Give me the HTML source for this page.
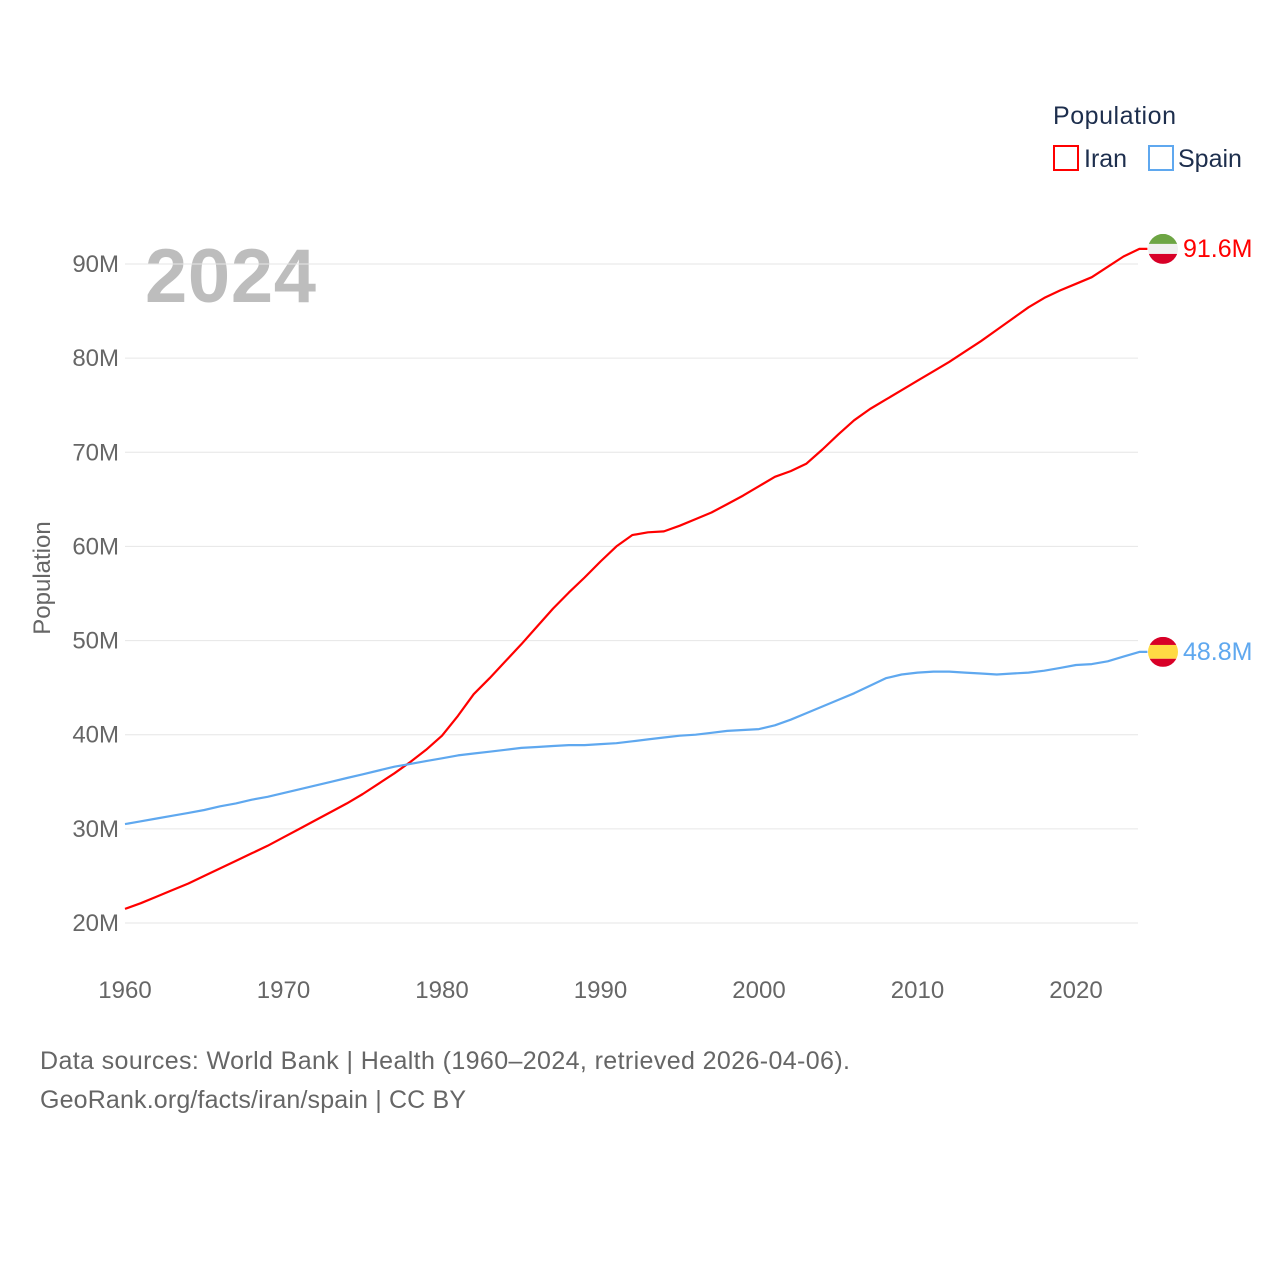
<!DOCTYPE html>
<html><head><meta charset="utf-8"><style>
body{margin:0;background:#fff;width:1280px;height:1280px;overflow:hidden}
svg{font-family:"Liberation Sans",sans-serif}
</style></head><body>
<svg id="chart" width="1280" height="1280">
<text x="1053" y="124" font-size="25" fill="#1d2e4d" textLength="123">Population</text>
<g><rect x="1054" y="146" width="24" height="24" fill="none" stroke="#f00" stroke-width="2"/><text x="1084" y="167" font-size="25" fill="#1d2e4d">Iran</text></g>
<g><rect x="1149" y="146" width="24" height="24" fill="none" stroke="#5fa8ef" stroke-width="2"/><text x="1178" y="167" font-size="25" fill="#1d2e4d">Spain</text></g>
<text x="145" y="302" font-size="76" font-weight="bold" fill="#bdbdbd" textLength="171">2024</text>
<text transform="translate(50,578) rotate(-90)" text-anchor="middle" font-size="24" fill="#666">Population</text>
<g id="grid"></g><g id="lines"></g><g id="labels"></g>
<text x="40" y="1069" font-size="25" fill="#666" textLength="810">Data sources: World Bank | Health (1960–2024, retrieved 2026-04-06).</text>
<text x="40" y="1108" font-size="25" fill="#666" textLength="426">GeoRank.org/facts/iran/spain | CC BY</text>
</svg>
<script>
const startYear = 1960;
const iranValues = [21.5,22.1,22.8,23.5,24.2,25.0,25.8,26.6,27.4,28.2,29.1,30.0,30.9,31.8,32.7,33.7,34.8,35.9,37.1,38.4,39.9,42.0,44.3,46.0,47.8,49.6,51.5,53.4,55.1,56.7,58.4,60.0,61.2,61.5,61.6,62.2,62.9,63.6,64.5,65.4,66.4,67.4,68.0,68.8,70.3,71.9,73.4,74.6,75.6,76.6,77.6,78.6,79.6,80.7,81.8,83.0,84.2,85.4,86.4,87.2,87.9,88.6,89.7,90.8,91.6];
const spainValues = [30.5,30.8,31.1,31.4,31.7,32.0,32.4,32.7,33.1,33.4,33.8,34.2,34.6,35.0,35.4,35.8,36.2,36.6,36.9,37.2,37.5,37.8,38.0,38.2,38.4,38.6,38.7,38.8,38.9,38.9,39.0,39.1,39.3,39.5,39.7,39.9,40.0,40.2,40.4,40.5,40.6,41.0,41.6,42.3,43.0,43.7,44.4,45.2,46.0,46.4,46.6,46.7,46.7,46.6,46.5,46.4,46.5,46.6,46.8,47.1,47.4,47.5,47.8,48.3,48.8];
const yTicks = [20,30,40,50,60,70,80,90];
const xTicks = [1960,1970,1980,1990,2000,2010,2020];
const NS='http://www.w3.org/2000/svg';
const xs = y => 125 + (y-1960)*(1076-125)/60;
const ys = v => 923 - (v-20)*(923-264)/70;
function mk(tag, attrs, parent){const e=document.createElementNS(NS,tag);for(const k in attrs)e.setAttribute(k,attrs[k]);parent.appendChild(e);return e;}
const grid=document.getElementById('grid'), lines=document.getElementById('lines'), labels=document.getElementById('labels');
yTicks.forEach(t=>{
  const l=mk('line',{x1:125,x2:1138,y1:ys(t),y2:ys(t),stroke:'#e6e6e6','stroke-width':1},grid);
  
  
  const tx=mk('text',{x:119,y:ys(t)+8,'text-anchor':'end','font-size':24,fill:'#666'},grid);
  tx.textContent=t+'M';
  
  
});
xTicks.forEach(t=>{
  const tx=mk('text',{x:xs(t),y:998,'text-anchor':'middle','font-size':24,fill:'#666'},grid);
  tx.textContent=t;
  
  
});
function series(vals,color,name){
  const pts=vals.map((v,i)=>xs(startYear+i).toFixed(1)+','+ys(v).toFixed(1));
  const last=vals[vals.length-1], lx=xs(startYear+vals.length-1), ly=ys(last);
  pts.push((lx+8).toFixed(1)+','+ly.toFixed(1));
  const p=mk('polyline',{points:pts.join(' '),fill:'none',stroke:color,'stroke-width':2.2,'stroke-linejoin':'round'},lines);
  
  
  const t=mk('text',{x:1183,y:ly+8,'font-size':25,fill:color},labels);
  t.textContent=last.toFixed(1)+'M';
  
  
  return ly;
}
const iy=series(iranValues,'#ff0000','iran');
const sy=series(spainValues,'#5fa8ef','spain');
function flag(cy,bands,name){
  const g=mk('g',{},labels);
  
  
  const id='c'+name;
  const cp=mk('clipPath',{id:id},g); mk('circle',{cx:1163,cy:cy,r:15},cp);
  let y=cy-15;
  bands.forEach(b=>{mk('rect',{x:1148,y:y,width:30,height:30*b[1],fill:b[0],'clip-path':'url(#'+id+')'},g);y+=30*b[1];});
  return g;
}
flag(iy,[['#6da544',1/3],['#f0f0f0',1/3],['#d80027',1/3]],'iran');
flag(sy,[['#d80027',0.27],['#ffda44',0.46],['#d80027',0.27]],'spain');
</script>
</body></html>
